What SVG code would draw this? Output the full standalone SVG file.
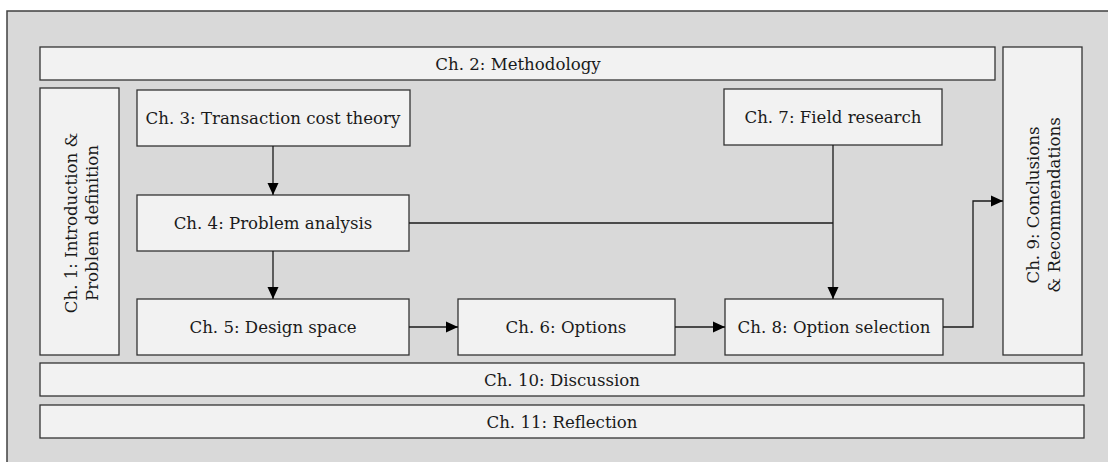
<svg xmlns="http://www.w3.org/2000/svg" width="1108" height="462" viewBox="0 0 1108 462">
  <defs>
    <style>
      .bg { fill: #d9d9d9; stroke: #404040; stroke-width: 1.5; }
      .box { fill: #f2f2f2; stroke: #333333; stroke-width: 1.3; }
      .lbl { font-family: "DejaVu Serif", "Liberation Serif", serif; font-size: 16.6px; fill: #1a1a1a; text-anchor: middle; dominant-baseline: central; }
      .wire { fill: none; stroke: #1a1a1a; stroke-width: 1.3; }
    </style>
    <marker id="arrow" viewBox="0 0 12 12" refX="12" refY="6" markerWidth="12" markerHeight="12" markerUnits="userSpaceOnUse" orient="auto">
      <path d="M0,0.5 L12,6 L0,11.5 Z" fill="#000000"/>
    </marker>
  </defs>

  <rect class="bg" x="7" y="11" width="1110" height="460"/>

  <g id="ch2">
    <rect class="box" x="40" y="47" width="955" height="33"/>
    <text class="lbl" x="518" y="64">Ch. 2: Methodology</text>
  </g>
  <g id="ch1">
    <rect class="box" x="40" y="88" width="79" height="267"/>
    <text class="lbl" transform="translate(81,223) rotate(-90)"><tspan x="0" y="-10.5">Ch. 1: Introduction &amp;</tspan><tspan x="0" y="10.5">Problem definition</tspan></text>
  </g>
  <g id="ch3">
    <rect class="box" x="137" y="90" width="273" height="56"/>
    <text class="lbl" x="273" y="118">Ch. 3: Transaction cost theory</text>
  </g>
  <g id="ch4">
    <rect class="box" x="137" y="195" width="272" height="56"/>
    <text class="lbl" x="273" y="223">Ch. 4: Problem analysis</text>
  </g>
  <g id="ch5">
    <rect class="box" x="137" y="299" width="272" height="56"/>
    <text class="lbl" x="273" y="327">Ch. 5: Design space</text>
  </g>
  <g id="ch6">
    <rect class="box" x="458" y="299" width="217" height="56"/>
    <text class="lbl" x="566" y="327">Ch. 6: Options</text>
  </g>
  <g id="ch7">
    <rect class="box" x="724" y="89" width="218" height="56"/>
    <text class="lbl" x="833" y="117">Ch. 7: Field research</text>
  </g>
  <g id="ch8">
    <rect class="box" x="725" y="299" width="218" height="56"/>
    <text class="lbl" x="834" y="327">Ch. 8: Option selection</text>
  </g>
  <g id="ch9">
    <rect class="box" x="1003" y="47" width="79" height="308"/>
    <text class="lbl" transform="translate(1043,205) rotate(-90)"><tspan x="0" y="-10.5">Ch. 9: Conclusions</tspan><tspan x="0" y="10.5">&amp; Recommendations</tspan></text>
  </g>
  <g id="ch10">
    <rect class="box" x="40" y="363" width="1044" height="33"/>
    <text class="lbl" x="562" y="380">Ch. 10: Discussion</text>
  </g>
  <g id="ch11">
    <rect class="box" x="40" y="405" width="1044" height="33"/>
    <text class="lbl" x="562" y="422">Ch. 11: Reflection</text>
  </g>

  <g id="connectors">
    <path class="wire" d="M273,146 V195" marker-end="url(#arrow)"/>
    <path class="wire" d="M273,251 V299" marker-end="url(#arrow)"/>
    <path class="wire" d="M409,327 H458" marker-end="url(#arrow)"/>
    <path class="wire" d="M675,327 H725" marker-end="url(#arrow)"/>
    <path class="wire" d="M833,145 V299" marker-end="url(#arrow)"/>
    <path class="wire" d="M409,223 H833"/>
    <path class="wire" d="M943,327 H973 V201 H1003" marker-end="url(#arrow)"/>
  </g>
</svg>
